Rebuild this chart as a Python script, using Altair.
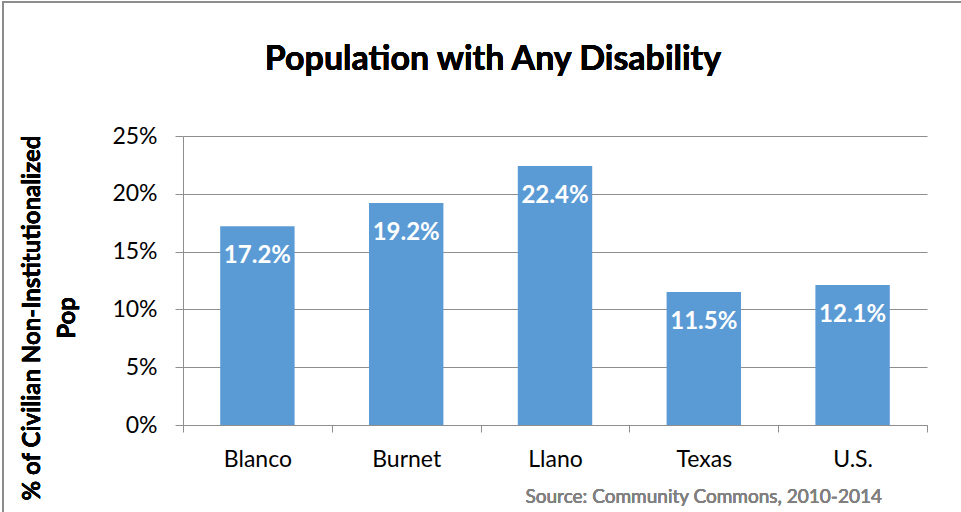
import altair as alt
import pandas as pd

categories = ["Blanco", "Burnet", "Llano", "Texas", "U.S."]
values = [17.2, 19.2, 22.4, 11.5, 12.1]
y_ticks = [0, 5, 10, 15, 20, 25]

title_text = "Population with Any Disability"
y_title_lines = ["% of Civilian Non-Institutionalized", "Pop"]
source_text = "Source: Community Commons, 2010-2014"

df = pd.DataFrame({"cat": categories, "val": values})
df["label"] = [f"{v:.1f}%" for v in values]

FONT = "Lato"
W, H = 744, 289
GRID = "#8e8e8e"
BAR = "#5B9BD5"

xenc = alt.X(
    "cat:N", sort=categories, title=None,
    scale=alt.Scale(paddingInner=0, paddingOuter=0),
    axis=alt.Axis(
        labelAngle=0, labelFont=FONT, labelFontSize=23, labelColor="#000000",
        labelPadding=16, tickBand="extent", tickSize=7, tickColor=GRID,
        domainColor=GRID, grid=False,
    ),
)
yenc = alt.Y(
    "val:Q", title=None,
    scale=alt.Scale(domain=[0, 25], nice=False),
    axis=alt.Axis(
        values=y_ticks, labelExpr="datum.value + '%'", labelFont=FONT,
        labelFontSize=23, labelColor="#000000", labelPadding=18, tickSize=8,
        tickColor=GRID, domainColor=GRID, gridColor=GRID, grid=True,
    ),
)

base = alt.Chart(df)

bars = base.mark_bar(color=BAR, width={"band": 0.5}).encode(x=xenc, y=yenc)

labels = base.mark_text(
    font=FONT, fontSize=24, fontWeight="bold", color="white",
    baseline="alphabetic", dy=37,
).encode(x=alt.X("cat:N", sort=categories), y="val:Q", text="label:N")

border = base.mark_rect(
    fill=None, stroke="#8c8c8c", strokeWidth=1.5
).encode(x=alt.value(-180), x2=alt.value(900), y=alt.value(-134), y2=alt.value(500))

title = base.mark_text(
    text=title_text, font=FONT, fontSize=34, fontWeight="bold", color="#000000",
    align="center", baseline="alphabetic",
).encode(x=alt.value(310), y=alt.value(-66))

ytitle1 = base.mark_text(
    text=y_title_lines[0], font=FONT, fontSize=24, fontWeight="bold", color="#000000",
    align="center", baseline="middle", angle=270,
).encode(x=alt.value(33 - 183), y=alt.value(318 - 136))

ytitle2 = base.mark_text(
    text=y_title_lines[1], font=FONT, fontSize=24, fontWeight="bold", color="#000000",
    align="center", baseline="middle", angle=270,
).encode(x=alt.value(68 - 183), y=alt.value(318 - 136))

source = base.mark_text(
    text=source_text, font=FONT, fontSize=19, fontWeight="normal", color="#808080",
    align="right", baseline="alphabetic",
).encode(x=alt.value(882 - 183), y=alt.value(503 - 136))

chart = alt.layer(border, bars, labels, title, ytitle1, ytitle2, source).properties(
    width=W, height=H,
    autosize=alt.AutoSizeParams(type="none"),
    padding={"left": 183, "top": 136, "right": 34, "bottom": 87},
    background="white",
).configure_view(stroke=None)

chart.save("out.html", embed_options={"renderer": "svg", "actions": False})
